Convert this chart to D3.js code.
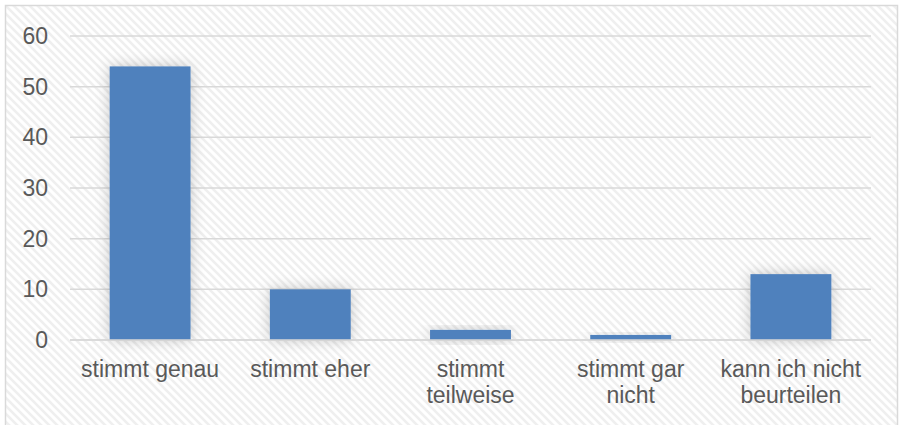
<!DOCTYPE html>
<html>
<head>
<meta charset="utf-8">
<script src="https://cdn.jsdelivr.net/npm/d3@7"></script>
<style>
  html, body { margin: 0; padding: 0; background: #fff; }
  svg { display: block; }
  text { font-family: "Liberation Sans", Arial, sans-serif; fill: #595959; }
</style>
</head>
<body>
<svg id="chart" width="901" height="425"></svg>
<script>
const categories = ["stimmt genau", "stimmt eher", "stimmt teilweise", "stimmt gar nicht", "kann ich nicht beurteilen"];
const values = [54, 10, 2, 1, 13];
const yTicks = [0, 10, 20, 30, 40, 50, 60];

const svg = d3.select("#chart");
const defs = svg.append("defs");

const pat = defs.append("pattern").attr("id", "hatch")
  .attr("patternUnits", "userSpaceOnUse").attr("width", 8).attr("height", 8);
pat.append("rect").attr("width", 8).attr("height", 8).attr("fill", "#ffffff");
pat.append("path").attr("d", "M-2,-2 L10,10 M-2,6 L2,10 M6,-2 L10,2")
  .attr("stroke", "#efefef").attr("stroke-width", 2.6);

const f = defs.append("filter").attr("id", "glow")
  .attr("x", "-40%").attr("y", "-40%").attr("width", "180%").attr("height", "180%");
f.append("feDropShadow").attr("dx", 0).attr("dy", 0).attr("stdDeviation", 7)
  .attr("flood-color", "#000").attr("flood-opacity", 0.22);

// background + border
svg.append("rect").attr("x", 5.5).attr("y", 5.5).attr("width", 892).attr("height", 425)
  .attr("fill", "url(#hatch)").attr("stroke", "#d9d9d9").attr("stroke-width", 1.5);

const x = d3.scaleBand().domain(categories).range([70, 871]).paddingInner(0.495).paddingOuter(0.2475);
const y = d3.scaleLinear().domain([0, 60]).range([340, 36]);

// gridlines
svg.append("g").selectAll("line").data(yTicks).join("line")
  .attr("x1", 70).attr("x2", 871)
  .attr("y1", d => y(d)).attr("y2", d => y(d))
  .attr("stroke", "#d9d9d9").attr("stroke-width", 1.5);

// y axis labels
const yAxis = d3.axisLeft(y).tickValues(yTicks).tickSize(0).tickPadding(0);
const yg = svg.append("g").attr("transform", "translate(48,0)").call(yAxis);
yg.select(".domain").remove();
yg.selectAll("text").style("font-size", "23px").style("fill", "#595959")
  .style("font-family", '"Liberation Sans", Arial, sans-serif');

// bars
svg.append("g").selectAll("rect").data(values).join("rect")
  .attr("x", (d, i) => x(categories[i]))
  .attr("width", x.bandwidth())
  .attr("y", d => y(d))
  .attr("height", d => y(0) - y(d))
  .attr("fill", "#4f81bd")
  .attr("filter", "url(#glow)");

// redraw zero line on top of shadow
svg.append("line").attr("x1", 70).attr("x2", 871).attr("y1", y(0)).attr("y2", y(0))
  .attr("stroke", "#d9d9d9").attr("stroke-width", 1.5);

// x labels with wrapping
const fontSize = 23;
const lineH = 26.5;
const xg = svg.append("g");
const measure = svg.append("text").style("font-size", fontSize + "px").attr("visibility", "hidden");
function wrap(str, maxW) {
  const words = str.split(" ");
  const lines = [];
  let cur = "";
  words.forEach(w => {
    const t = cur ? cur + " " + w : w;
    measure.text(t);
    if (measure.node().getComputedTextLength() > maxW && cur) { lines.push(cur); cur = w; }
    else cur = t;
  });
  if (cur) lines.push(cur);
  return lines;
}
categories.forEach(c => {
  const lines = wrap(c, x.step() - 4);
  const t = xg.append("text").attr("text-anchor", "middle").style("font-size", fontSize + "px");
  lines.forEach((ln, k) => {
    t.append("tspan").attr("x", x(c) + x.bandwidth() / 2).attr("y", 376.5 + k * lineH).text(ln);
  });
});
measure.remove();
</script>
</body>
</html>
